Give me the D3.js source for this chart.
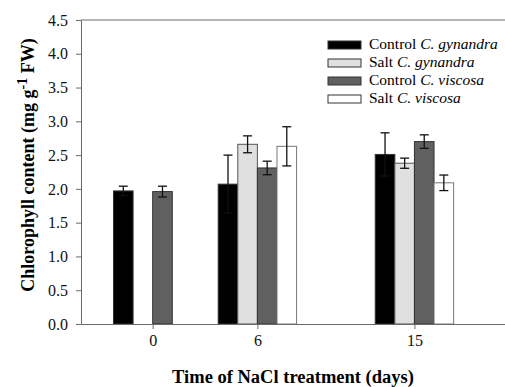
<!DOCTYPE html>
<html>
<head>
<meta charset="utf-8">
<script src="https://cdn.jsdelivr.net/npm/d3@7"></script>
<style>
  body { margin: 0; background: #fff; }
  svg { display: block; }
  svg text { font-family: "Liberation Serif", "Times New Roman", Times, "DejaVu Serif", serif !important; }
</style>
</head>
<body>
<figure id="chart" style="margin:0"></figure>
<script>
// days of NaCl treatment
const days = [0, 6, 15];
const seriesNames = ["Control", "Salt", "Control", "Salt"];
const species = ["C. gynandra", "C. gynandra", "C. viscosa", "C. viscosa"];
// chlorophyll content (mg g-1 FW), null = not measured
const ctrlGyn = [1.97, 2.07, 2.51];
const saltGyn = [null, 2.66, 2.38];
const ctrlVis = [1.96, 2.31, 2.70];
const saltVis = [null, 2.63, 2.09];
// standard errors
const ctrlGynErr = [0.07, 0.43, 0.32];
const saltGynErr = [null, 0.125, 0.075];
const ctrlVisErr = [0.08, 0.10, 0.10];
const saltVisErr = [null, 0.29, 0.115];
const yTicks = [0, 0.5, 1, 1.5, 2, 2.5, 3, 3.5, 4, 4.5];

const fills = ["#000000", "#e0e0e0", "#606060", "#ffffff"];
const strokes = ["#333", "#555", "#333", "#777"];
const serif = "Liberation Serif";

const width = 505, height = 387;
const pLeft = 81, pRight = 505, pTop = 20, pBottom = 324;

const svg = d3.select("#chart").append("svg")
  .attr("width", width)
  .attr("height", height)
  .attr("font-family", serif);

const x = d3.scaleLinear().domain([-4.108, 20.19]).range([pLeft, pRight]);
const y = d3.scaleLinear().domain([0, 4.5]).range([pBottom, pTop]);
const barW = 1.123; // bar width in days

const values = [ctrlGyn, saltGyn, ctrlVis, saltVis];
const errs = [ctrlGynErr, saltGynErr, ctrlVisErr, saltVisErr];

const bars = [];
values.forEach((vals, s) => {
  vals.forEach((v, i) => {
    if (v == null) return;
    bars.push({ s, day: days[i], v, e: errs[s][i] });
  });
});

// bars
svg.append("g").selectAll("rect")
  .data(bars)
  .enter()
  .append("rect")
  .attr("x", d => x(d.day + (d.s - 2) * barW))
  .attr("y", d => y(d.v))
  .attr("width", d => x(barW) - x(0))
  .attr("height", d => y(0) - y(d.v))
  .attr("fill", d => fills[d.s])
  .attr("stroke", d => strokes[d.s])
  .attr("stroke-width", 1);

// error bars
const eb = svg.append("g").attr("stroke", "#111").attr("stroke-width", 1.3);
bars.forEach(d => {
  const cx = x(d.day + (d.s - 1.5) * barW);
  eb.append("line").attr("x1", cx).attr("x2", cx).attr("y1", y(d.v - d.e)).attr("y2", y(d.v + d.e));
  [d.v - d.e, d.v + d.e].forEach(t => {
    eb.append("line").attr("x1", cx - 4.5).attr("x2", cx + 4.5).attr("y1", y(t)).attr("y2", y(t));
  });
});

// axes
const yAxis = svg.append("g")
  .attr("transform", "translate(" + pLeft + ",0)")
  .call(d3.axisLeft(y).tickValues(yTicks).tickFormat(d3.format(".1f")).tickSize(5).tickSizeOuter(0).tickPadding(8));
const xAxis = svg.append("g")
  .attr("transform", "translate(0," + pBottom + ")")
  .call(d3.axisBottom(x).tickValues(days).tickSize(5).tickSizeOuter(0).tickPadding(6));
[yAxis, xAxis].forEach(a => {
  a.attr("font-family", serif).attr("font-size", 16);
  a.selectAll("path, line").attr("stroke", "#6a6a6a");
  a.selectAll("text").attr("fill", "#111");
});
svg.append("line")
  .attr("x1", pLeft).attr("x2", pRight).attr("y1", pTop).attr("y2", pTop)
  .attr("stroke", "#6a6a6a");

// axis titles
svg.append("text")
  .attr("x", (pLeft + pRight) / 2)
  .attr("y", 383)
  .attr("text-anchor", "middle")
  .attr("font-size", 18.5)
  .attr("font-weight", "bold")
  .text("Time of NaCl treatment (days)");

const yl = svg.append("text")
  .attr("transform", "translate(34,165) rotate(-90)")
  .attr("text-anchor", "middle")
  .attr("font-size", 18)
  .attr("font-weight", "bold");
yl.append("tspan").text("Chlorophyll content (mg g");
yl.append("tspan").attr("dy", -7).attr("font-size", 14).text("-1");
yl.append("tspan").attr("dy", 7).text(" FW)");

// legend
const lg = svg.append("g").attr("transform", "translate(328,41)");
seriesNames.forEach((n, i) => {
  const row = lg.append("g").attr("transform", "translate(0," + i * 18 + ")");
  row.append("rect")
    .attr("width", 33).attr("height", 8)
    .attr("fill", fills[i]).attr("stroke", "#333").attr("stroke-width", 1);
  const t = row.append("text").attr("x", 41).attr("y", 8).attr("font-size", 15.5);
  t.append("tspan").text(n + " ");
  t.append("tspan").attr("font-style", "italic").text(species[i]);
});
</script>
</body>
</html>
